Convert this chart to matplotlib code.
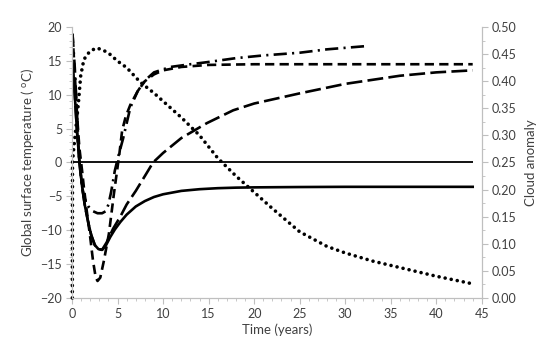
import numpy as np
import matplotlib
matplotlib.use('Agg')
import matplotlib.pyplot as plt
from matplotlib.ticker import MultipleLocator, FormatStrFormatter

plt.rcParams['font.family'] = ['Lato', 'DejaVu Sans']

# solid: temperature
t_solid = [0.05, 0.3, 0.55, 0.8, 1.1, 1.4, 1.8, 2.1, 2.5, 2.9, 3.3, 3.7, 4.2, 4.7, 5.3,
           6, 7, 8, 9, 10, 12, 14, 16, 18, 20, 25, 30, 35, 44]
v_solid = [14.6, 10, 4.5, 0.3, -3.5, -6.3, -9, -10.7, -12.2, -12.8, -12.9, -12.3, -11.0, -9.9, -8.8,
           -7.7, -6.5, -5.7, -5.1, -4.7, -4.2, -3.95, -3.8, -3.72, -3.68, -3.63, -3.6, -3.6, -3.6]

# long dash
t_long = [0.05, 0.3, 0.55, 0.8, 1.1, 1.4, 1.8, 2.1, 2.5, 2.9, 3.3, 3.8, 4.5, 5.3, 6, 7, 8,
          8.9, 10, 12, 14.8, 17.7, 20, 25, 30, 36, 40, 44]
v_long = [14.6, 10, 4.5, 0.3, -3.5, -6.3, -9, -10.7, -12.2, -12.8, -12.9, -11.8, -9.8, -8.0, -6.2, -4.2, -2.0,
          0, 1.4, 3.6, 5.8, 7.7, 8.7, 10.2, 11.6, 12.8, 13.3, 13.6]

# short dash
t_dash = [0.05, 0.2, 0.4, 0.6, 0.8, 1.1, 1.3, 1.6, 2.0, 2.3, 2.6, 2.8, 3.1, 3.5, 4.05, 4.6,
          5.2, 5.5, 5.9, 6.4, 7.2, 8, 9, 10, 12, 15, 20, 30, 44]
v_dash = [19, 15.5, 10.5, 6, 2.2, -1.2, -3.7, -7, -11.1, -14.5, -17, -17.5, -17, -14.5, -10.5, -4.6,
          1.3, 4.7, 6.8, 8.5, 10.5, 12, 13, 13.6, 14.1, 14.4, 14.5, 14.5, 14.5]

# dash-dot
t_dd = [0.05, 0.3, 0.55, 0.8, 1.05, 1.3, 1.8, 2.3, 2.8, 3.3, 3.7, 4.0, 4.3, 4.7, 5.1, 5.6, 6.4,
        7.2, 8, 9, 10.8, 13, 14.8, 18, 21, 25, 28, 32.5]
v_dd = [19, 14, 7, 0, -3, -5.1, -6.5, -7.2, -7.5, -7.5, -7.2, -6.2, -4.3, -1.2, 1.0, 3.5, 8.1,
        10.5, 12.1, 13.3, 14.1, 14.5, 14.8, 15.4, 15.8, 16.2, 16.7, 17.2]

# dotted: cloud anomaly (right axis)
t_cloud = [0.03, 0.05, 0.15, 0.4, 0.7, 0.95, 1.3, 1.9, 2.6, 3.2, 4.0, 5.0, 6.0, 7.5, 9, 10,
           12, 14, 16, 18, 20, 22, 25, 28, 30, 33, 36, 40, 44]
v_cloud = [0.0, 0.25, 0.27, 0.31, 0.36, 0.41, 0.44, 0.454, 0.461, 0.459, 0.452, 0.437, 0.425, 0.398, 0.378, 0.363,
           0.333, 0.30, 0.258, 0.225, 0.195, 0.165, 0.122, 0.095, 0.083, 0.068, 0.056, 0.04, 0.026]

t_zero = [0, 44]
v_zero = [0, 0]

axcol = '#bfbfbf'
txtcol = '#404040'

fig = plt.figure(figsize=(5.5, 3.46), dpi=100)
ax = fig.add_axes([0.131, 0.139, 0.745, 0.783])
ax2 = ax.twinx()

ax.plot(t_zero, v_zero, color='black', lw=1.3, solid_capstyle='butt')
ax.plot(t_solid, v_solid, color='black', lw=1.9)
ax.plot(t_long, v_long, color='black', lw=1.9, linestyle=(0, (6, 2)))
ax.plot(t_dash, v_dash, color='black', lw=1.9, linestyle=(0, (3.5, 2)))
ax.plot(t_dd, v_dd, color='black', lw=1.9, linestyle=(0, (5, 2, 0.8, 2)))
ax2.plot(t_cloud, v_cloud, color='black', lw=2.6, linestyle=(0, (0.01, 1.7)),
         dash_capstyle='round', clip_on=False)

ax.set_xlim(0, 45)
ax.set_ylim(-20, 20)
ax2.set_ylim(0, 0.5)

ax.xaxis.set_major_locator(MultipleLocator(5))
ax.xaxis.set_minor_locator(MultipleLocator(1))
ax.yaxis.set_major_locator(MultipleLocator(5))
ax.yaxis.set_minor_locator(MultipleLocator(1))
ax2.yaxis.set_major_locator(MultipleLocator(0.05))
ax2.yaxis.set_minor_locator(MultipleLocator(0.025))
ax2.yaxis.set_major_formatter(FormatStrFormatter('%.2f'))

for a in (ax, ax2):
    for s in a.spines.values():
        s.set_color(axcol)
        s.set_linewidth(0.8)
    a.spines['top'].set_visible(False)
    a.tick_params(which='major', length=4, width=0.8, color=axcol, labelsize=9,
                  labelcolor=txtcol, pad=3)
    a.tick_params(which='minor', length=2.5, width=0.6, color=axcol)

ax.set_xlabel('Time (years)', fontsize=9.5, color=txtcol, labelpad=3)
ax.set_ylabel('Global surface temperature ( $^{\\mathregular{o}}$C)', fontsize=9.5,
              color=txtcol, labelpad=3)
ax2.set_ylabel('Cloud anomaly', fontsize=9.5, color=txtcol, labelpad=6)

fig.savefig('out.png', dpi=100)
